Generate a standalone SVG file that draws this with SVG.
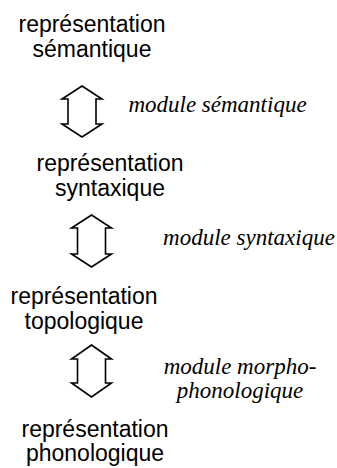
<svg xmlns="http://www.w3.org/2000/svg" width="337" height="468" viewBox="0 0 337 468">
<style>
.n{font-family:"Liberation Sans",Arial,sans-serif;font-size:23px;fill:#000;text-anchor:middle}
.m{font-family:"Liberation Serif","Times New Roman",serif;font-size:23px;font-style:italic;fill:#000;text-anchor:middle}
.a{fill:#fff;stroke:#000;stroke-width:1.6;stroke-linejoin:miter}
</style>
<rect width="337" height="468" fill="#fff"/>
<g id="sem">
<text class="n" x="92" y="32">représentation</text>
<text class="n" x="92" y="57">sémantique</text>
</g>
<g id="syn">
<text class="n" x="110" y="171">représentation</text>
<text class="n" x="110" y="196">syntaxique</text>
</g>
<g id="topo">
<text class="n" x="84" y="304">représentation</text>
<text class="n" x="84" y="329">topologique</text>
</g>
<g id="phon">
<text class="n" x="95" y="437">représentation</text>
<text class="n" x="95" y="461">phonologique</text>
</g>
<g id="connectors">
<path class="a" d="M82,86 L102,99 L96,99 L96,124 L102,124 L82,137 L62,124 L68,124 L68,99 L62,99 Z"/>
<text class="m" x="217.5" y="112">module sémantique</text>
<path class="a" d="M91.5,215 L111.5,228 L105.5,228 L105.5,254 L111.5,254 L91.5,267 L71.5,254 L77.5,254 L77.5,228 L71.5,228 Z"/>
<text class="m" x="249" y="245">module syntaxique</text>
<path class="a" d="M91.5,345 L111.5,359 L105.5,359 L105.5,383 L111.5,383 L91.5,397 L71.5,383 L77.5,383 L77.5,359 L71.5,359 Z"/>
<text class="m" x="240" y="374">module morpho-</text>
<text class="m" x="240" y="398">phonologique</text>
</g>
</svg>
